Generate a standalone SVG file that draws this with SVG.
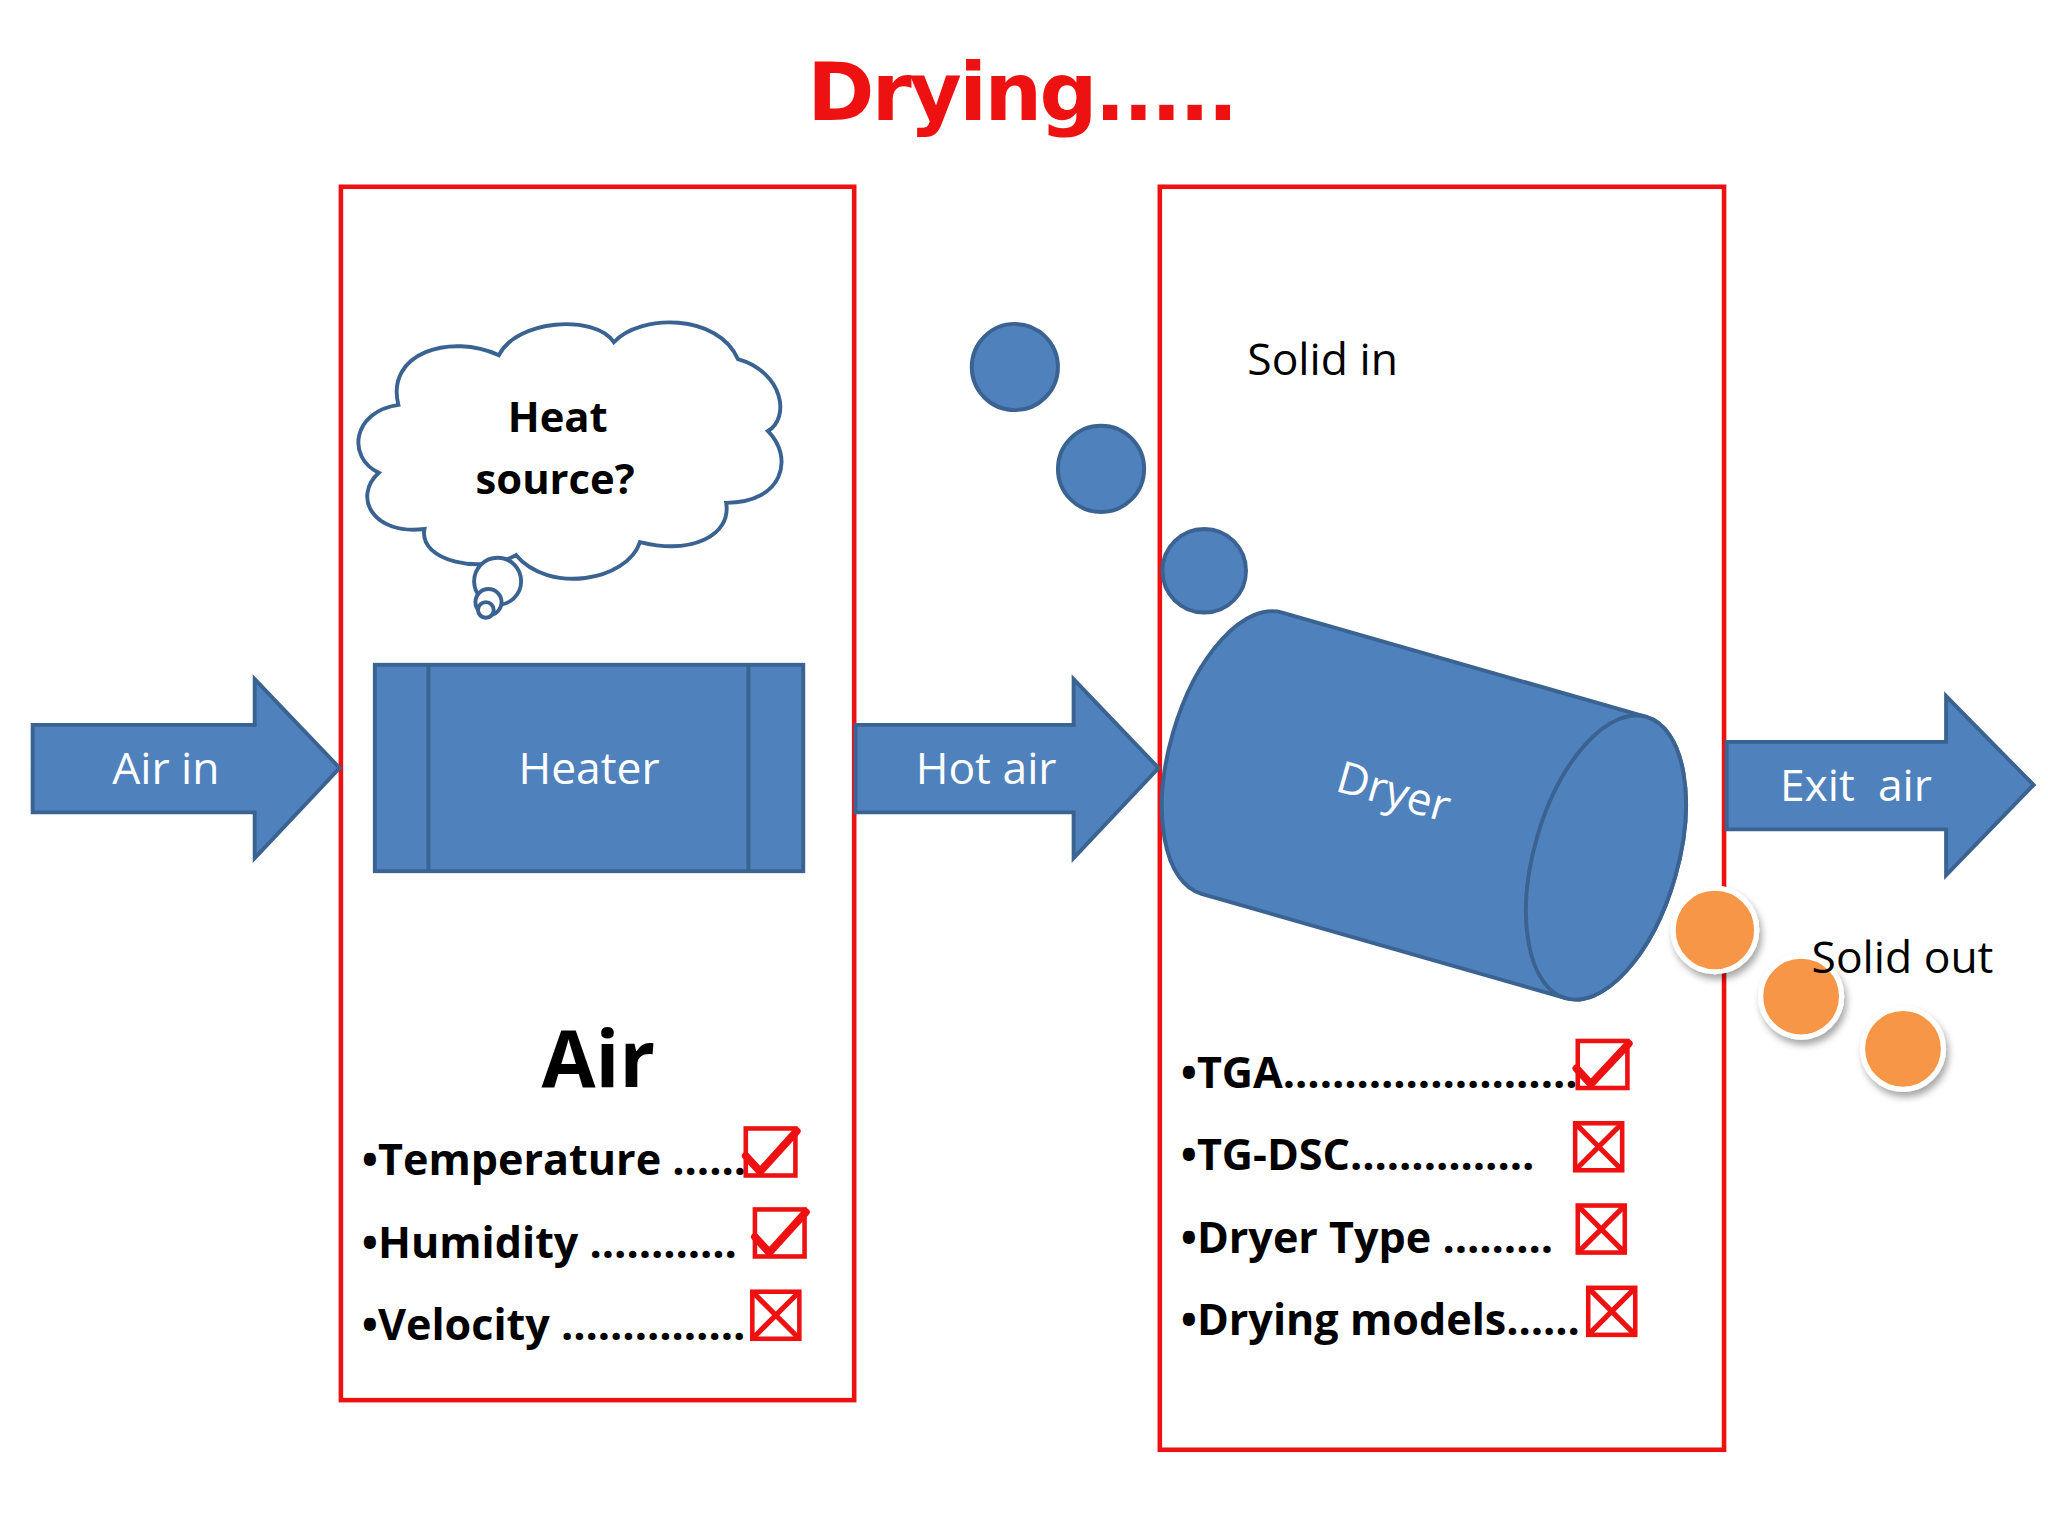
<svg xmlns="http://www.w3.org/2000/svg" width="2048" height="1536" viewBox="0 0 2048 1536">
<defs>
<style>
.blue{fill:#4f81bd;stroke:#3b6392;stroke-width:3}
.frame{fill:none;stroke:#ee1111;stroke-width:3.5}
.wt{font-family:"Open Sans","DejaVu Sans",sans-serif;fill:#fff;font-size:34px}
.bt{font-family:"Open Sans","DejaVu Sans",sans-serif;fill:#000;font-size:34px}
.item{font-family:"Open Sans","DejaVu Sans",sans-serif;fill:#000;font-size:33px;font-weight:bold}
.box{fill:none;stroke:#ee1111;stroke-width:3.5}
.mark{fill:none;stroke:#ee1111;stroke-width:4}
.chk{fill:none;stroke:#ee1111;stroke-width:6;stroke-linecap:round}
.orange{fill:#f79646;stroke:#fff;stroke-width:4}
</style>
<filter id="sh"><feDropShadow dx="2" dy="4" stdDeviation="3" flood-opacity="0.35"/></filter>
</defs>
<rect width="2048" height="1536" fill="#fff"/>
<g transform="scale(1.3061)">
<text x="783" y="92" text-anchor="middle" font-family="DejaVu Sans,sans-serif" font-weight="bold" font-size="62" fill="#ee1111" textLength="330">Drying.....</text>
<g id="airbox"><rect class="frame" x="261" y="143" width="393" height="929"/></g>
<g id="dryerbox"><rect class="frame" x="888" y="143" width="432" height="967"/></g>
<g id="connectors">
<g id="airin"><path class="blue" d="M25 555H195V520L260 588L195 657V622H25Z"/><text class="wt" x="127" y="600" text-anchor="middle">Air in</text></g>
<g id="hotair"><path class="blue" d="M655 555H822V520L887 588L822 657V622H655Z"/><text class="wt" x="755" y="600" text-anchor="middle">Hot air</text></g>
<g id="exitair"><path class="blue" d="M1322 568H1490V533L1557 601L1490 670V635H1322Z"/><text class="wt" x="1421" y="613" text-anchor="middle" xml:space="preserve">Exit  air</text></g>
</g>
<g id="heater"><rect class="blue" x="287" y="509" width="328" height="158"/><line x1="328" y1="509" x2="328" y2="667" stroke="#3b6392" stroke-width="3"/><line x1="573" y1="509" x2="573" y2="667" stroke="#3b6392" stroke-width="3"/><text class="wt" x="451" y="600" text-anchor="middle">Heater</text></g>
<g id="cloud" fill="#fff" stroke="#3b6392" stroke-width="3">
<path d="M305 310C295 270 345 255 382 272C395 245 455 240 470 262C490 240 550 240 565 275C600 285 605 320 588 330C608 350 600 385 556 385C560 410 530 425 490 415C480 445 420 455 395 425C370 440 320 430 325 405C285 410 270 380 290 362C265 350 270 315 305 310Z"/>
<circle cx="381" cy="445" r="18"/><circle cx="374" cy="461" r="10"/><circle cx="372" cy="467" r="6"/>
<text x="427" y="331" text-anchor="middle" font-family="Open Sans,DejaVu Sans,sans-serif" font-weight="bold" font-size="32" fill="#000" stroke="none">Heat</text>
<text x="425" y="378" text-anchor="middle" font-family="Open Sans,DejaVu Sans,sans-serif" font-weight="bold" font-size="32" fill="#000" stroke="none">source?</text>
</g>
<g id="solidin"><circle class="blue" cx="777" cy="281" r="33"/><circle class="blue" cx="843" cy="359" r="33"/><circle class="blue" cx="922" cy="437" r="32"/><text class="bt" x="955" y="287">Solid in</text></g>
<g id="dryer" transform="translate(1095 618) rotate(16)">
<path class="blue" d="M-150 -112H140A55 112 0 0 1 140 112H-150A55 112 0 0 1 -150 -112Z"/>
<ellipse class="blue" cx="140" cy="0" rx="55" ry="112"/>
<text class="wt" x="-30" y="8" text-anchor="middle">Dryer</text>
</g>
<g id="solidout" filter="url(#sh)"><circle class="orange" cx="1313" cy="712" r="32"/><circle class="orange" cx="1379" cy="763" r="31"/><circle class="orange" cx="1457" cy="803" r="31"/></g>
<text class="bt" x="1387" y="745">Solid out</text>
<g id="airlist">
<text x="458" y="832" text-anchor="middle" font-family="Open Sans,DejaVu Sans,sans-serif" font-weight="bold" font-size="60">Air</text>
<text class="item" x="277" y="900">•Temperature ……</text>
<rect class="box" x="571" y="864" width="38" height="36"/><path class="chk" d="M571 885L582 897L610 866"/>
<text class="item" x="277" y="963">•Humidity …………</text>
<rect class="box" x="578" y="926" width="38" height="36"/><path class="chk" d="M578 947L589 959L617 928"/>
<text class="item" x="277" y="1026">•Velocity ……………</text>
<rect class="box" x="576" y="989" width="36" height="36"/><path class="mark" d="M576 989L612 1025M612 989L576 1025"/>
</g>
<g id="dryerlist">
<text class="item" x="904" y="833">•TGA……………………</text>
<rect class="box" x="1208" y="797" width="38" height="36"/><path class="chk" d="M1207 818L1218 830L1247 799"/>
<text class="item" x="904" y="896">•TG-DSC……………</text>
<rect class="box" x="1206" y="860" width="36" height="36"/><path class="mark" d="M1206 860L1242 896M1242 860L1206 896"/>
<text class="item" x="904" y="959">•Dryer Type ………</text>
<rect class="box" x="1208" y="923" width="36" height="36"/><path class="mark" d="M1208 923L1244 959M1244 923L1208 959"/>
<text class="item" x="904" y="1022">•Drying models……</text>
<rect class="box" x="1216" y="986" width="36" height="36"/><path class="mark" d="M1216 986L1252 1022M1252 986L1216 1022"/>
</g>
</g>
</svg>
